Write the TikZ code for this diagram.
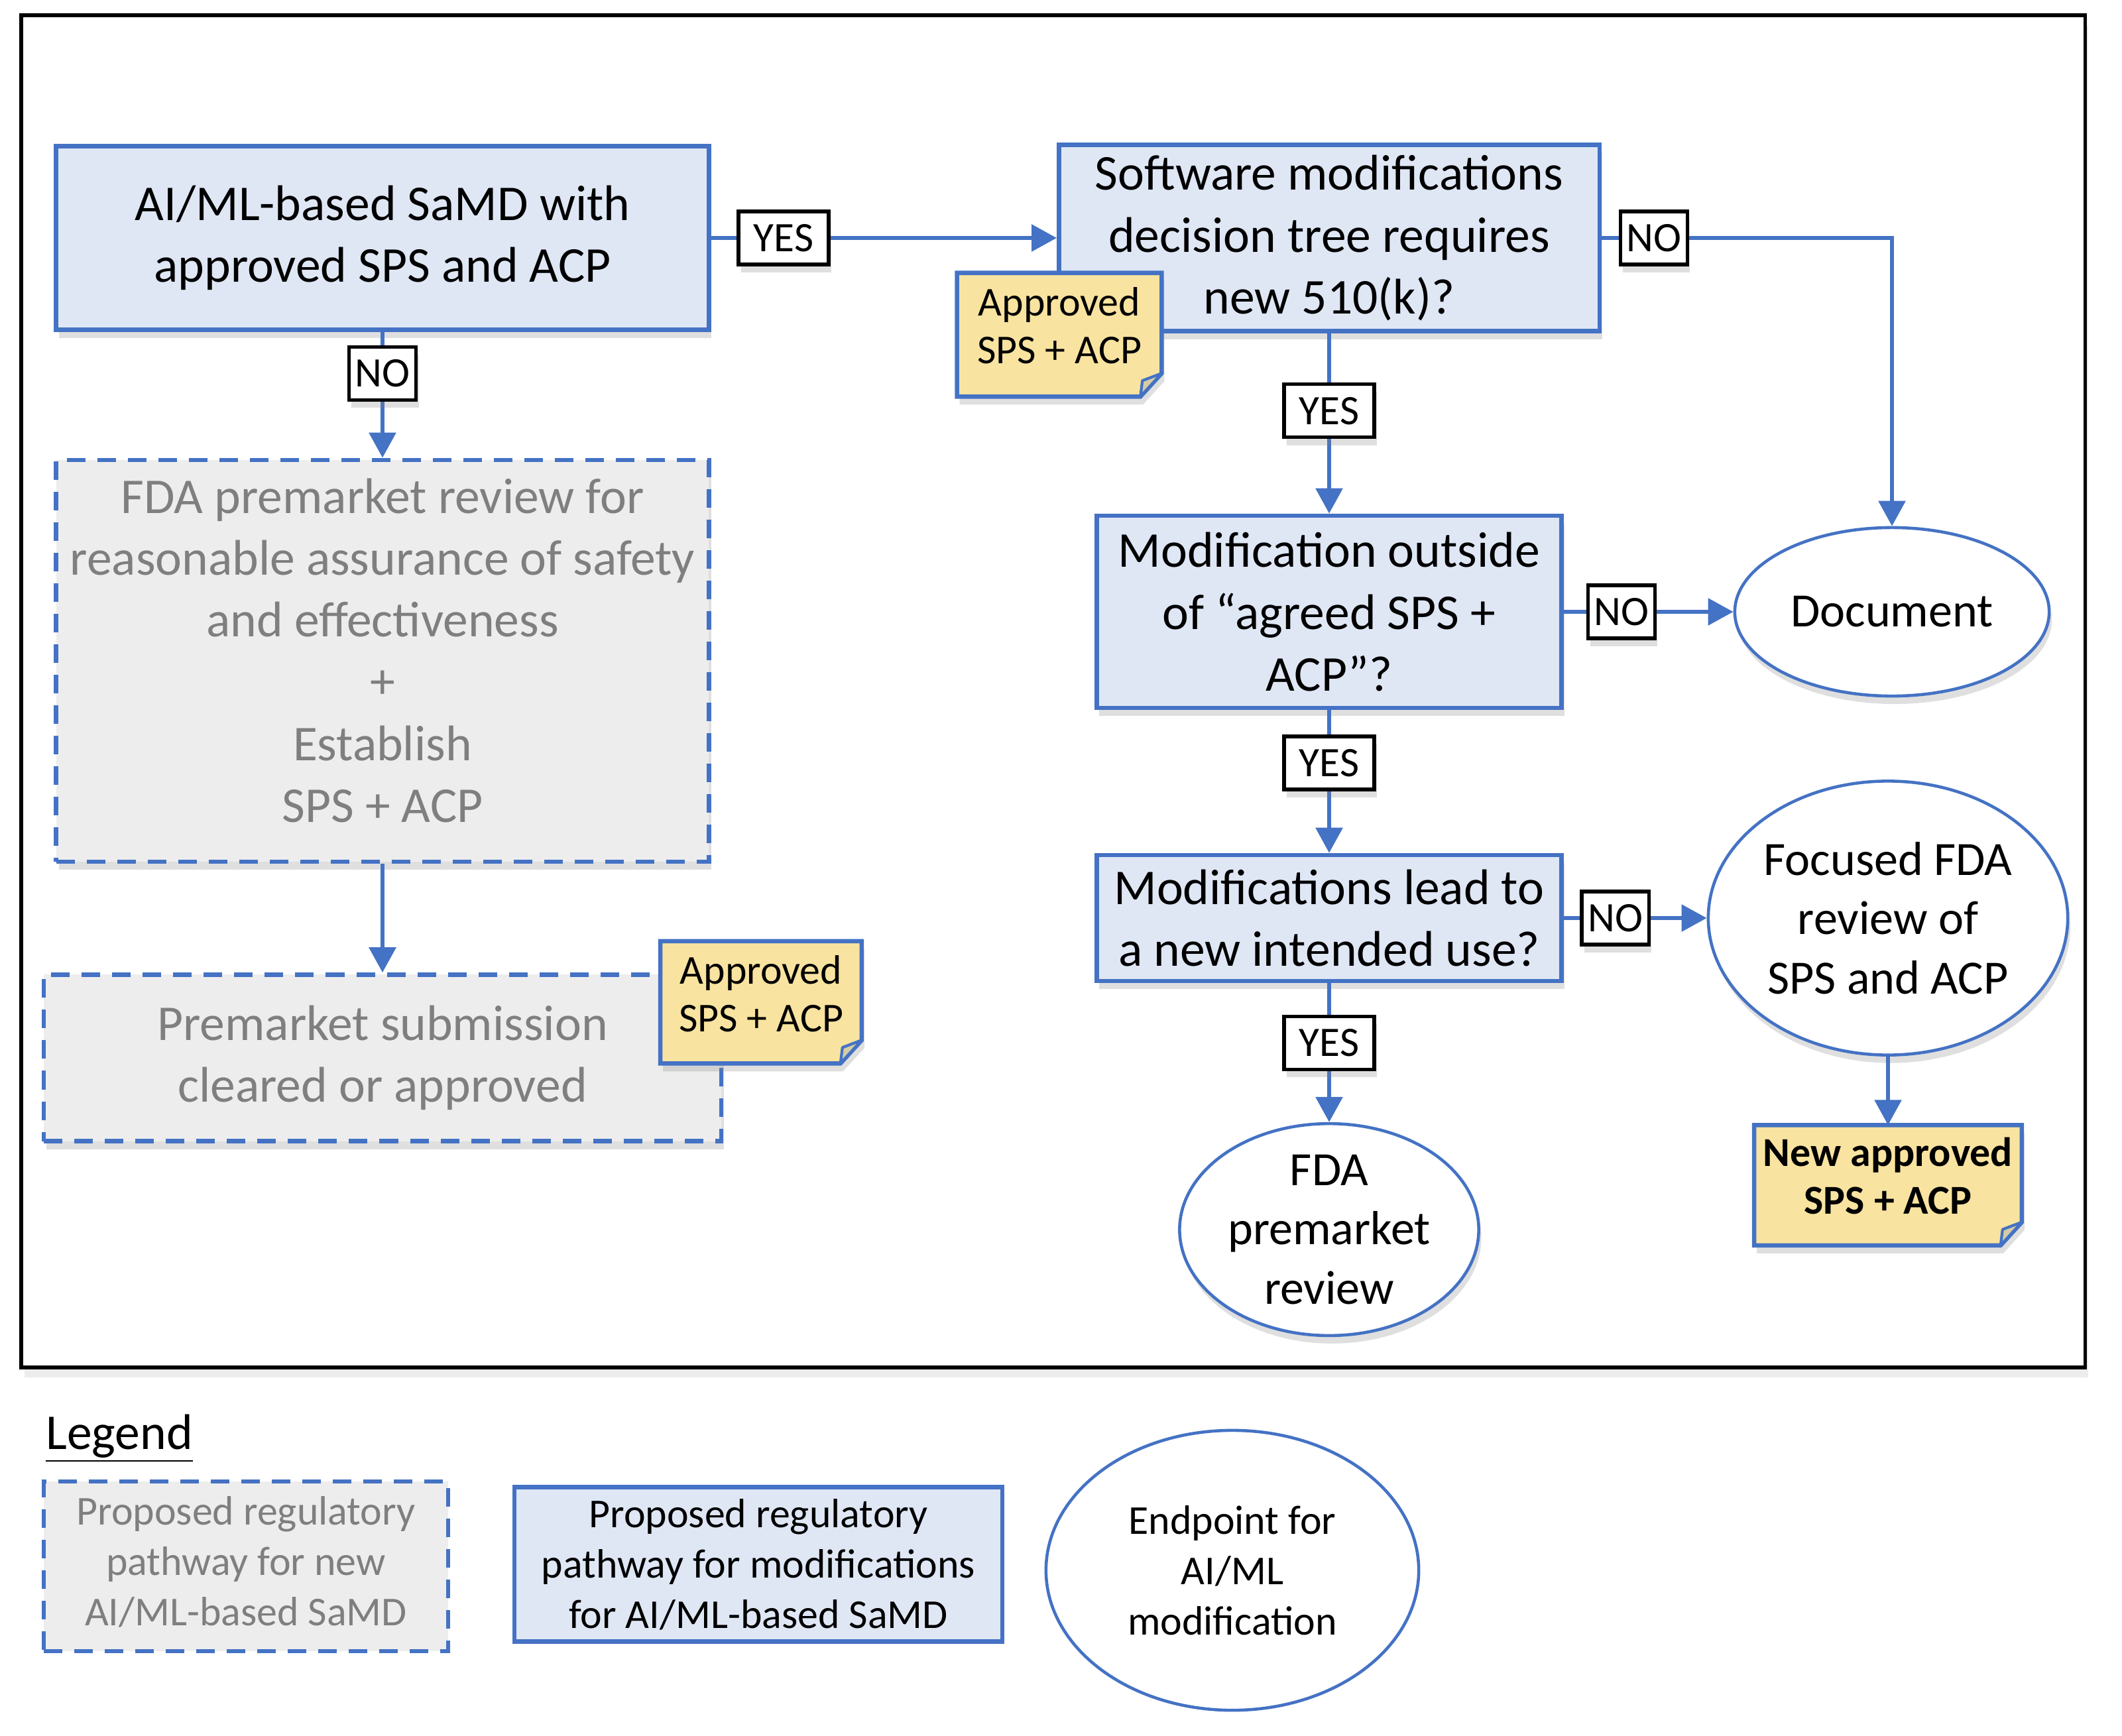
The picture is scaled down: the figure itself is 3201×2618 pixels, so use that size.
\documentclass[tikz,border=0pt]{standalone}
\usepackage{fontspec}
\setmainfont{Carlito}
\usepackage{tikz}
\usetikzlibrary{arrows.meta,shapes.geometric,shadows}

\definecolor{bluebd}{HTML}{4472C4}
\definecolor{bluefill}{HTML}{DFE7F5}
\definecolor{grayfill}{HTML}{EDEDED}
\definecolor{graytxt}{HTML}{7F7F7F}
\definecolor{notefill}{HTML}{F8E3A0}

\pgfdeclarelayer{notebg}
\pgfdeclarelayer{notefg}
\pgfsetlayers{main,notebg,notefg}

% extra depth below the last line, lifts the text a little
\newcommand{\pushup}[1]{\rule[-#1]{0pt}{0pt}}

\begin{document}
\begin{tikzpicture}[x=0.01cm,y=-0.01cm,
  shdw/.style={drop shadow={shadow xshift=0.04cm,shadow yshift=-0.12cm,opacity=0.25}},
  box/.style={draw=bluebd,fill=bluefill,line width=1.85pt,align=center,inner sep=0pt,
    font=\fontsize{21.5}{26.5}\selectfont},
  gbox/.style={box,fill=grayfill,text=graytxt,dash pattern=on 0.28cm off 0.18cm},
  endpt/.style={ellipse,draw=bluebd,fill=white,line width=1.3pt,align=center,inner sep=0pt,
    font=\fontsize{20.5}{25.5}\selectfont},
  note/.style={align=center,inner sep=0pt,font=\fontsize{17.6}{20.5}\selectfont},
  notebd/.style={draw=bluebd,fill=notefill,line width=1.85pt,line join=miter,shdw},
  fold/.style={draw=bluebd,fill=notefill!80!bluebd,line width=1.2pt,line join=round},
  lbl/.style={draw=black,fill=white,line width=1.5pt,inner sep=0pt,minimum height=0.8cm,
    minimum width=1.01cm,font=\fontsize{18}{20}\selectfont,shdw},
  yes/.style={lbl,minimum width=1.36cm},
  arr/.style={draw=bluebd,line width=1.7pt,-{Triangle[length=0.38cm,width=0.4cm]}},
  lgd/.style={font=\fontsize{17.6}{21.6}\selectfont}]

\useasboundingbox (0,0) rectangle (3201,2618);

% outer frame
\draw[line width=1.45pt,fill=white,drop shadow={shadow xshift=0.05cm,shadow yshift=-0.15cm,opacity=0.15}]
  (32,23) rectangle (3145,2063);

% new SaMD pathway
\node[box,shdw,minimum width=9.84cm,minimum height=2.77cm] (samd) at (577,359)
  {AI/ML-based SaMD with\\approved SPS and ACP};
\node[gbox,shdw,minimum width=9.84cm,minimum height=6.06cm] (fdarev) at (577,997)
  {FDA premarket review for\\reasonable assurance of safety\\and effectiveness\\+\\Establish\\SPS + ACP\pushup{0.32cm}};
\node[gbox,shdw,minimum width=10.21cm,minimum height=2.51cm] (submit) at (577,1596)
  {Premarket submission\\cleared or approved};

% modification pathway
\node[box,shdw,minimum width=8.15cm,minimum height=2.81cm] (tree) at (2005,359)
  {Software modifications\\decision tree requires\\new 510(k)?};
\node[box,shdw,minimum width=7.01cm,minimum height=2.90cm] (outside) at (2005,923)
  {Modification outside\\of “agreed SPS +\\ACP”?};
\node[box,shdw,minimum width=7.01cm,minimum height=1.90cm] (intuse) at (2005,1385)
  {Modifications lead to\\a new intended use?};

% endpoints
\node[endpt,shdw,minimum width=4.74cm,minimum height=2.54cm] (doc) at (2854,923) {Document};
\node[endpt,shdw,minimum width=5.42cm,minimum height=4.13cm] (focus) at (2848,1385)
  {Focused FDA\\review of\\SPS and ACP};
\node[endpt,shdw,minimum width=4.51cm,minimum height=3.11cm] (premkt) at (2005,1855)
  {FDA\\premarket\\review};

% connectors
\draw[arr] (samd) -- node[yes,pos=0.21] {YES} (tree);
\draw[arr] (samd) -- node[lbl,pos=0.33] {NO} (fdarev);
\draw[arr] (fdarev) -- (submit);
\draw[arr] (tree.east) -| node[lbl,pos=0.09] {NO} (doc.north);
\draw[arr] (tree) -- node[yes,pos=0.43] {YES} (outside);
\draw[arr] (outside) -- node[lbl,pos=0.34] {NO} (doc);
\draw[arr] (outside) -- node[yes,pos=0.37] {YES} (intuse);
\draw[arr] (intuse) -- node[lbl,pos=0.36] {NO} (focus);
\draw[arr] (intuse) -- node[yes,pos=0.43] {YES} (premkt);

% notes
\begin{pgfonlayer}{notefg}
\node[note,minimum width=3.07cm,minimum height=1.85cm] (apr1) at (1598,505)
  {Approved\\SPS + ACP\pushup{0.28cm}};
\node[note,minimum width=3.02cm,minimum height=1.83cm] (apr2) at (1148,1512)
  {Approved\\SPS + ACP\pushup{0.26cm}};
\node[note,minimum width=4.02cm,minimum height=1.80cm,font=\fontsize{17.6}{20.5}\selectfont\bfseries] (newapr) at (2848,1788)
  {New approved\\SPS + ACP\pushup{0.28cm}};
\end{pgfonlayer}
\draw[arr] (focus) -- (newapr);

\begin{pgfonlayer}{notebg}
\foreach \n in {apr1,apr2,newapr} {
  \draw[notebd] (\n.north west) -- (\n.north east) -- ([yshift=0.35cm]\n.south east)
    -- ([xshift=-0.32cm]\n.south east) -- (\n.south west) -- cycle;
  \draw[fold] ([xshift=-0.32cm]\n.south east) -- ([xshift=-0.29cm,yshift=0.24cm]\n.south east)
    -- ([yshift=0.35cm]\n.south east) -- cycle;
}
\end{pgfonlayer}

% legend
\node[anchor=base,font=\fontsize{21.5}{26}\selectfont] (lgtitle) at (180,2186) {\underline{Legend}};
\node[gbox,lgd,minimum width=6.10cm,minimum height=2.56cm] (lgnew) at (371,2363)
  {Proposed regulatory\\pathway for new\\AI/ML-based SaMD\pushup{0.16cm}};
\node[box,lgd,minimum width=7.36cm,minimum height=2.33cm] (lgmod) at (1144,2360)
  {Proposed regulatory\\pathway for modifications\\for AI/ML-based SaMD};
\node[endpt,lgd,minimum width=5.62cm,minimum height=4.22cm] (lgend) at (1859,2369)
  {Endpoint for\\AI/ML\\modification};

\end{tikzpicture}
\end{document}
